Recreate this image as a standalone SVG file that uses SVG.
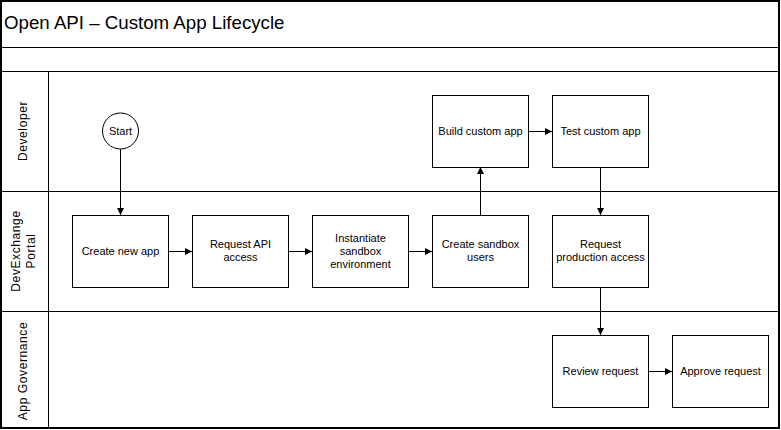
<svg xmlns="http://www.w3.org/2000/svg" width="781" height="430" viewBox="0 0 781 430">
<style>
.frame{fill:none;stroke:#000;stroke-width:1}
.box{fill:#fff;stroke:#000;stroke-width:1}
.t{font-family:"Liberation Sans",Arial,sans-serif;font-size:11px;fill:#000;text-anchor:middle}
.lane{font-family:"Liberation Sans",Arial,sans-serif;font-size:12px;letter-spacing:0.6px;fill:#000;text-anchor:middle}
.title{font-family:"Liberation Sans",Arial,sans-serif;font-size:18.7px;fill:#000}
.c{fill:none;stroke:#000;stroke-width:1;marker-end:url(#ah)}
</style>
<defs>
<marker id="ah" viewBox="0 0 7 7" refX="7" refY="3.5" markerWidth="7" markerHeight="7" markerUnits="userSpaceOnUse" orient="auto">
<path d="M0,0 L7,3.5 L0,7 Z" fill="#000"/>
</marker>
</defs>
<rect width="781" height="430" fill="#fff"/>
<g id="pool">
<rect x="1" y="1" width="778" height="427" fill="none" stroke="#000" stroke-width="2"/>
<line class="frame" x1="0" y1="47.5" x2="780" y2="47.5"/>
<line class="frame" x1="0" y1="71.5" x2="780" y2="71.5"/>
<line class="frame" x1="0" y1="191.5" x2="780" y2="191.5"/>
<line class="frame" x1="0" y1="311.5" x2="780" y2="311.5"/>
<line class="frame" x1="48.5" y1="71" x2="48.5" y2="428"/>
<text class="title" x="4" y="29">Open API – Custom App Lifecycle</text>
</g>
<g id="lane-developer"><text class="lane" transform="translate(27,131) rotate(-90)">Developer</text></g>
<g id="lane-devexchange"><text class="lane" transform="translate(20,251) rotate(-90)">DevExchange</text><text class="lane" transform="translate(35,251) rotate(-90)">Portal</text></g>
<g id="lane-governance"><text class="lane" transform="translate(27,371) rotate(-90)">App Governance</text></g>
<g id="connectors">
<path class="c" d="M120.5,149 V215"/>
<path class="c" d="M168,251.5 H192"/>
<path class="c" d="M288,251.5 H312"/>
<path class="c" d="M408,251.5 H432"/>
<path class="c" d="M480.5,215 V167"/>
<path class="c" d="M528,131.5 H552"/>
<path class="c" d="M600.5,167 V215"/>
<path class="c" d="M600.5,287 V335"/>
<path class="c" d="M648,371.5 H672"/>
</g>
<g id="start"><circle class="box" cx="120.5" cy="131" r="18"/><text class="t" x="120.5" y="135">Start</text></g>
<g id="create-new-app"><rect class="box" x="72.5" y="215.5" width="96" height="72"/><text class="t" x="120.5" y="255">Create new app</text></g>
<g id="request-api-access"><rect class="box" x="192.5" y="215.5" width="96" height="72"/><text class="t" x="240.5" y="248">Request API</text><text class="t" x="240.5" y="261">access</text></g>
<g id="instantiate-sandbox"><rect class="box" x="312.5" y="215.5" width="96" height="72"/><text class="t" x="360.5" y="242">Instantiate</text><text class="t" x="360.5" y="255">sandbox</text><text class="t" x="360.5" y="268">environment</text></g>
<g id="create-sandbox-users"><rect class="box" x="432.5" y="215.5" width="96" height="72"/><text class="t" x="480.5" y="248">Create sandbox</text><text class="t" x="480.5" y="261">users</text></g>
<g id="request-production-access"><rect class="box" x="552.5" y="215.5" width="96" height="72"/><text class="t" x="600.5" y="248">Request</text><text class="t" x="600.5" y="261">production access</text></g>
<g id="build-custom-app"><rect class="box" x="432.5" y="95.5" width="96" height="72"/><text class="t" x="480.5" y="135">Build custom app</text></g>
<g id="test-custom-app"><rect class="box" x="552.5" y="95.5" width="96" height="72"/><text class="t" x="600.5" y="135">Test custom app</text></g>
<g id="review-request"><rect class="box" x="552.5" y="335.5" width="96" height="72"/><text class="t" x="600.5" y="375">Review request</text></g>
<g id="approve-request"><rect class="box" x="672.5" y="335.5" width="96" height="72"/><text class="t" x="720.5" y="375">Approve request</text></g>
</svg>
